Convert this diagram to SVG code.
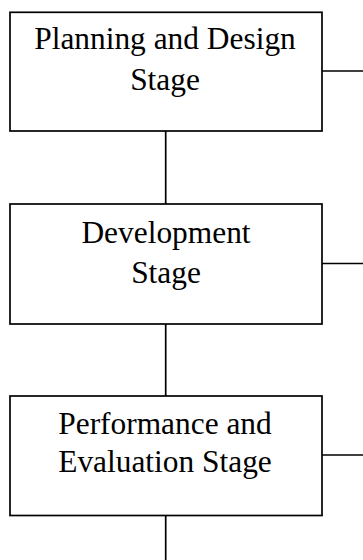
<svg xmlns="http://www.w3.org/2000/svg" width="363" height="560" viewBox="0 0 363 560">
<style>
.box{fill:#fff;stroke:#000;stroke-width:1.7}
.lbl{font-family:'Liberation Serif',serif;font-size:31.4px;fill:#000;text-anchor:middle}
.conn{stroke:#000;stroke-width:1.7;fill:none}
</style>
<rect width="363" height="560" fill="#fff"/>
<g id="connectors">
<line class="conn" x1="165.7" y1="131" x2="165.7" y2="204"/>
<line class="conn" x1="165.7" y1="324" x2="165.7" y2="396"/>
<line class="conn" x1="165.7" y1="516" x2="165.7" y2="560"/>
<line class="conn" x1="322" y1="71" x2="363" y2="71"/>
<line class="conn" x1="322" y1="263.5" x2="363" y2="263.5"/>
<line class="conn" x1="322" y1="455" x2="363" y2="455"/>
</g>
<g id="node-planning">
<rect class="box" x="10" y="12.3" width="312" height="118.7"/>
<text class="lbl" x="165" y="49">Planning and Design</text>
<text class="lbl" x="165" y="89.5">Stage</text>
</g>
<g id="node-development">
<rect class="box" x="10" y="204" width="312" height="120"/>
<text class="lbl" x="166" y="243">Development</text>
<text class="lbl" x="166" y="283">Stage</text>
</g>
<g id="node-performance">
<rect class="box" x="10" y="396" width="312" height="119.5"/>
<text class="lbl" x="165" y="433.5">Performance and</text>
<text class="lbl" x="165" y="472">Evaluation Stage</text>
</g>
</svg>
